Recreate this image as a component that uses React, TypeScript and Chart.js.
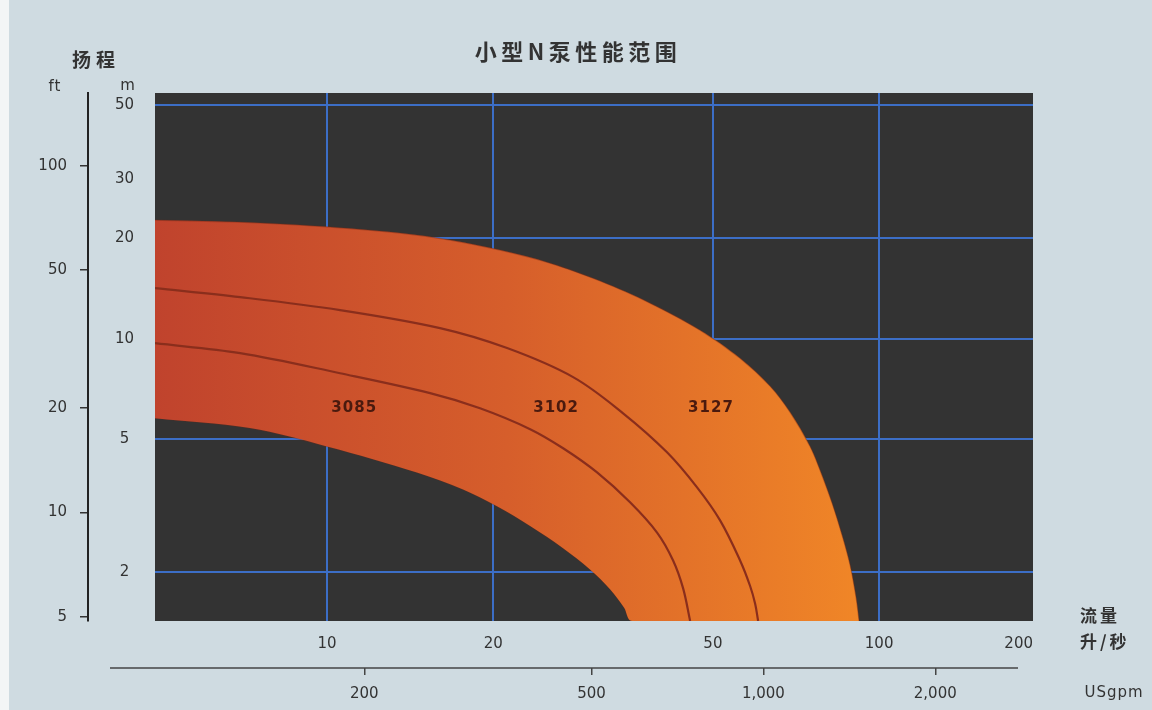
import React, { useEffect, useRef } from 'react';
import { Chart, registerables } from 'chart.js';

Chart.register(...registerables);

// ---- texts ----
const TITLE = '小型N泵性能范围';
const HEAD_LABEL = '扬程';
const FT_UNIT = 'ft';
const M_UNIT = 'm';
const FLOW_LABEL = '流量';
const LPS_UNIT = '升/秒';
const GPM_UNIT = 'USgpm';

// ---- axis ranges ----
const FLOW_MIN = 4.88;   // l/s at left edge of plot
const FLOW_MAX = 190;    // l/s at right edge of plot
const HEAD_MIN = 1.43;   // m at bottom edge
const HEAD_MAX = 54.3;   // m at top edge
const FT_MIN = 4.86;
const FT_MAX = 162;
const GPM_MIN = 86;
const GPM_MAX = 2966;

// ---- tick labels ----
const lpsTicks = [10, 20, 50, 100];
const lpsEndLabel = '200';
const headTicks = [2, 5, 10, 20, 30, 50];
const headNoGrid = [30];
const ftTicks = [5, 10, 20, 50, 100];
const gpmTicks = [200, 500, 1000, 2000];

// ---- curves: flow (l/s) / head (m) ----
// upper envelope (top of 3127)
const max3127Flow = [4.88, 7.25, 10.13, 13.56, 16.71, 20.58, 25.35, 31.23, 38.47, 47.4, 56.0, 63.48, 69.01, 74.99, 78.18, 82.2, 85.7, 88.61, 90.85, 91.99];
const max3127Head = [22.63, 22.25, 21.56, 20.69, 19.72, 18.4, 16.82, 14.87, 12.77, 10.6, 8.74, 7.21, 6.02, 4.76, 4.04, 3.22, 2.58, 2.1, 1.68, 1.43];
// boundary 3102 / 3127
const max3102Flow = [4.88, 6.96, 10.56, 16.02, 21.19, 27.91, 34.38, 41.29, 46.8, 51.52, 56.0, 58.39, 59.63, 60.38];
const max3102Head = [14.16, 13.31, 12.17, 10.75, 9.37, 7.67, 5.98, 4.57, 3.59, 2.86, 2.17, 1.82, 1.61, 1.43];
// boundary 3085 / 3102
const max3085Flow = [4.88, 6.96, 10.56, 15.37, 18.93, 23.33, 26.77, 30.84, 35.39, 39.61, 42.35, 44.16, 45.47];
const max3085Head = [9.69, 9.05, 7.88, 6.87, 6.19, 5.36, 4.7, 3.98, 3.24, 2.63, 2.17, 1.79, 1.43];
// lower envelope (bottom of 3085)
const minFlow = [4.88, 7.25, 10.0, 14.55, 17.64, 20.32, 23.33, 26.77, 29.95, 32.56, 34.51, 35.69];
const minHead = [5.78, 5.4, 4.76, 3.98, 3.54, 3.15, 2.75, 2.36, 2.04, 1.78, 1.57, 1.43];

// ---- pump labels ----
const pumpNames = ['3085', '3102', '3127'];
const pumpLabelFlow = [11.2, 26.0, 49.6];
const pumpLabelHead = 6.2;

// ---- styles ----
const PLOT_BG = '#333333';
const GRID = '#3c6ec6';
const TEXT = '#333333';
const CURVE = '#8a2e1c';
const EDGE = 'rgba(120,40,20,0.4)';
const FONT = "'DejaVu Sans', sans-serif";
const CJK = "'Noto Sans CJK SC', sans-serif";

const pts = (xs: number[], ys: number[]) => xs.map((x, i) => ({ x, y: ys[i] }));

// band floor = lower envelope, closed along the chart floor to the end of the upper envelope
const floorFlow = [...minFlow, max3127Flow[max3127Flow.length - 1]];
const floorHead = [...minHead, HEAD_MIN];

const spaced = (ctx: any, s: string) => {
  try {
    ctx.letterSpacing = s;
  } catch (e) {
    /* ignore */
  }
};

const annotations = {
  id: 'annotations',
  beforeDraw(chart: any) {
    const { ctx, chartArea: a } = chart;
    ctx.save();
    ctx.fillStyle = PLOT_BG;
    ctx.fillRect(a.left, a.top, a.right - a.left, a.bottom - a.top);
    ctx.restore();
  },
  afterDatasetsDraw(chart: any) {
    const { ctx, scales } = chart;
    ctx.save();
    ctx.font = `bold 15px ${FONT}`;
    spaced(ctx, '1px');
    ctx.fillStyle = '#4a1a0e';
    ctx.textAlign = 'center';
    ctx.textBaseline = 'middle';
    pumpNames.forEach((n, i) => {
      ctx.fillText(n, scales.x.getPixelForValue(pumpLabelFlow[i]), scales.y.getPixelForValue(pumpLabelHead));
    });
    ctx.restore();
  },
  afterDraw(chart: any) {
    const { ctx, chartArea: a, scales } = chart;
    ctx.save();
    ctx.fillStyle = TEXT;
    ctx.textBaseline = 'middle';
    ctx.textAlign = 'center';
    ctx.font = `bold 22px ${CJK}`;
    spaced(ctx, '4.5px');
    ctx.fillText(TITLE, 578, 52);
    ctx.font = `bold 19px ${CJK}`;
    spaced(ctx, '5px');
    ctx.fillText(HEAD_LABEL, 96, 60);
    ctx.font = `15px ${FONT}`;
    spaced(ctx, '1px');
    ctx.fillText(FT_UNIT, 55, 87);
    ctx.fillText(M_UNIT, 128, 86);
    ctx.fillText(GPM_UNIT, a.right + 81, scales.gpm.top + 25);
    ctx.textAlign = 'left';
    ctx.font = `bold 17px ${CJK}`;
    spaced(ctx, '3px');
    ctx.fillText(FLOW_LABEL, a.right + 47, a.bottom - 5);
    ctx.fillText(LPS_UNIT, a.right + 47, a.bottom + 21);
    ctx.strokeStyle = '#444';
    ctx.lineWidth = 1.5;
    ctx.beginPath();
    ctx.moveTo(a.left - 45, scales.gpm.top);
    ctx.lineTo(a.right - 15, scales.gpm.top);
    ctx.stroke();
    ctx.restore();
  },
};

export default function App() {
  const ref = useRef<HTMLCanvasElement>(null);

  useEffect(() => {
    if (!ref.current) return;
    const bandFill = (c: any) => {
      const chart = c.chart;
      const a = chart.chartArea;
      if (!a) return '#d55a2b';
      const g = chart.ctx.createLinearGradient(a.left, 0, chart.scales.x.getPixelForValue(92), 0);
      g.addColorStop(0, '#c0432d');
      g.addColorStop(0.5, '#d65e2b');
      g.addColorStop(1, '#f08627');
      return g;
    };
    const line = (xs: number[], ys: number[], extra: any) => ({
      data: pts(xs, ys),
      pointRadius: 0,
      tension: 0.35,
      ...extra,
    });
    const chart = new Chart(ref.current, {
      type: 'line',
      data: {
        datasets: [
          line(max3127Flow, max3127Head, { fill: 1, backgroundColor: bandFill, borderColor: EDGE, borderWidth: 1.2, order: 2 }),
          line(floorFlow, floorHead, { fill: false, borderColor: EDGE, borderWidth: 1.2, order: 2 }),
          line(max3102Flow, max3102Head, { fill: false, borderColor: CURVE, borderWidth: 2.2, order: 1 }),
          line(max3085Flow, max3085Head, { fill: false, borderColor: CURVE, borderWidth: 2.2, order: 1 }),
        ] as any,
      },
      options: {
        animation: false,
        responsive: false,
        maintainAspectRatio: false,
        events: [],
        layout: { padding: { top: 93, left: 0, right: 119, bottom: 0 } },
        plugins: { legend: { display: false }, title: { display: false }, tooltip: { enabled: false } },
        scales: {
          x: {
            type: 'logarithmic',
            position: 'bottom',
            min: FLOW_MIN,
            max: FLOW_MAX,
            bounds: 'data',
            weight: 0,
            afterBuildTicks: (axis: any) => {
              axis.ticks = [FLOW_MIN, ...lpsTicks, FLOW_MAX].map((v) => ({ value: v }));
            },
            afterFit: (axis: any) => {
              axis.height = 47;
            },
            grid: {
              color: (c: any) => (c.tick && (c.tick.value === FLOW_MIN || c.tick.value === FLOW_MAX) ? 'rgba(0,0,0,0)' : GRID),
              lineWidth: 2,
              drawTicks: false,
            },
            border: { display: false },
            ticks: {
              align: 'inner',
              autoSkip: false,
              maxRotation: 0,
              minRotation: 0,
              padding: 14,
              color: TEXT,
              font: { family: FONT, size: 15 },
              callback: (v: any, i: number, t: any[]) => (i === 0 ? '' : i === t.length - 1 ? lpsEndLabel : String(v)),
            },
          },
          gpm: {
            type: 'logarithmic',
            position: 'bottom',
            min: GPM_MIN,
            max: GPM_MAX,
            bounds: 'data',
            weight: 1,
            afterBuildTicks: (axis: any) => {
              axis.ticks = gpmTicks.map((v) => ({ value: v }));
            },
            afterFit: (axis: any) => {
              axis.height = 42;
            },
            grid: { drawOnChartArea: false, drawTicks: true, tickLength: 7, color: '#444', lineWidth: 1.5 },
            border: { display: false },
            ticks: {
              autoSkip: false,
              maxRotation: 0,
              minRotation: 0,
              padding: 10,
              color: TEXT,
              font: { family: FONT, size: 15 },
              callback: (v: any) => Number(v).toLocaleString('en-US'),
            },
          },
          y: {
            type: 'logarithmic',
            position: 'left',
            min: HEAD_MIN,
            max: HEAD_MAX,
            bounds: 'data',
            weight: 0,
            afterBuildTicks: (axis: any) => {
              axis.ticks = headTicks.map((v) => ({ value: v }));
            },
            afterFit: (axis: any) => {
              axis.width = 67;
            },
            grid: {
              color: (c: any) => (c.tick && headNoGrid.includes(c.tick.value) ? 'rgba(0,0,0,0)' : GRID),
              lineWidth: 2,
              drawTicks: false,
            },
            border: { display: false },
            ticks: {
              crossAlign: 'center',
              padding: 21,
              color: TEXT,
              font: { family: FONT, size: 15 },
              callback: (v: any) => String(v),
            },
          },
          ft: {
            type: 'logarithmic',
            position: 'left',
            min: FT_MIN,
            max: FT_MAX,
            bounds: 'data',
            weight: 1,
            afterBuildTicks: (axis: any) => {
              axis.ticks = ftTicks.map((v) => ({ value: v }));
            },
            afterFit: (axis: any) => {
              axis.width = 88;
            },
            grid: { drawOnChartArea: false, drawTicks: true, tickLength: 8, color: '#333', lineWidth: 1.5 },
            border: { display: true, color: '#222', width: 2 },
            ticks: {
              padding: 13,
              color: TEXT,
              font: { family: FONT, size: 15 },
              callback: (v: any) => String(v),
            },
          },
        },
      } as any,
      plugins: [annotations],
    });
    return () => chart.destroy();
  }, []);

  return (
    <div
      style={{
        position: 'fixed',
        left: 0,
        top: 0,
        width: 1152,
        height: 710,
        background: 'linear-gradient(to right, #f3f5f6 0px, #f3f5f6 9px, #cfdbe1 9px)',
      }}
    >
      <canvas ref={ref} width={1152} height={710} style={{ display: 'block', width: 1152, height: 710 }} />
    </div>
  );
}
